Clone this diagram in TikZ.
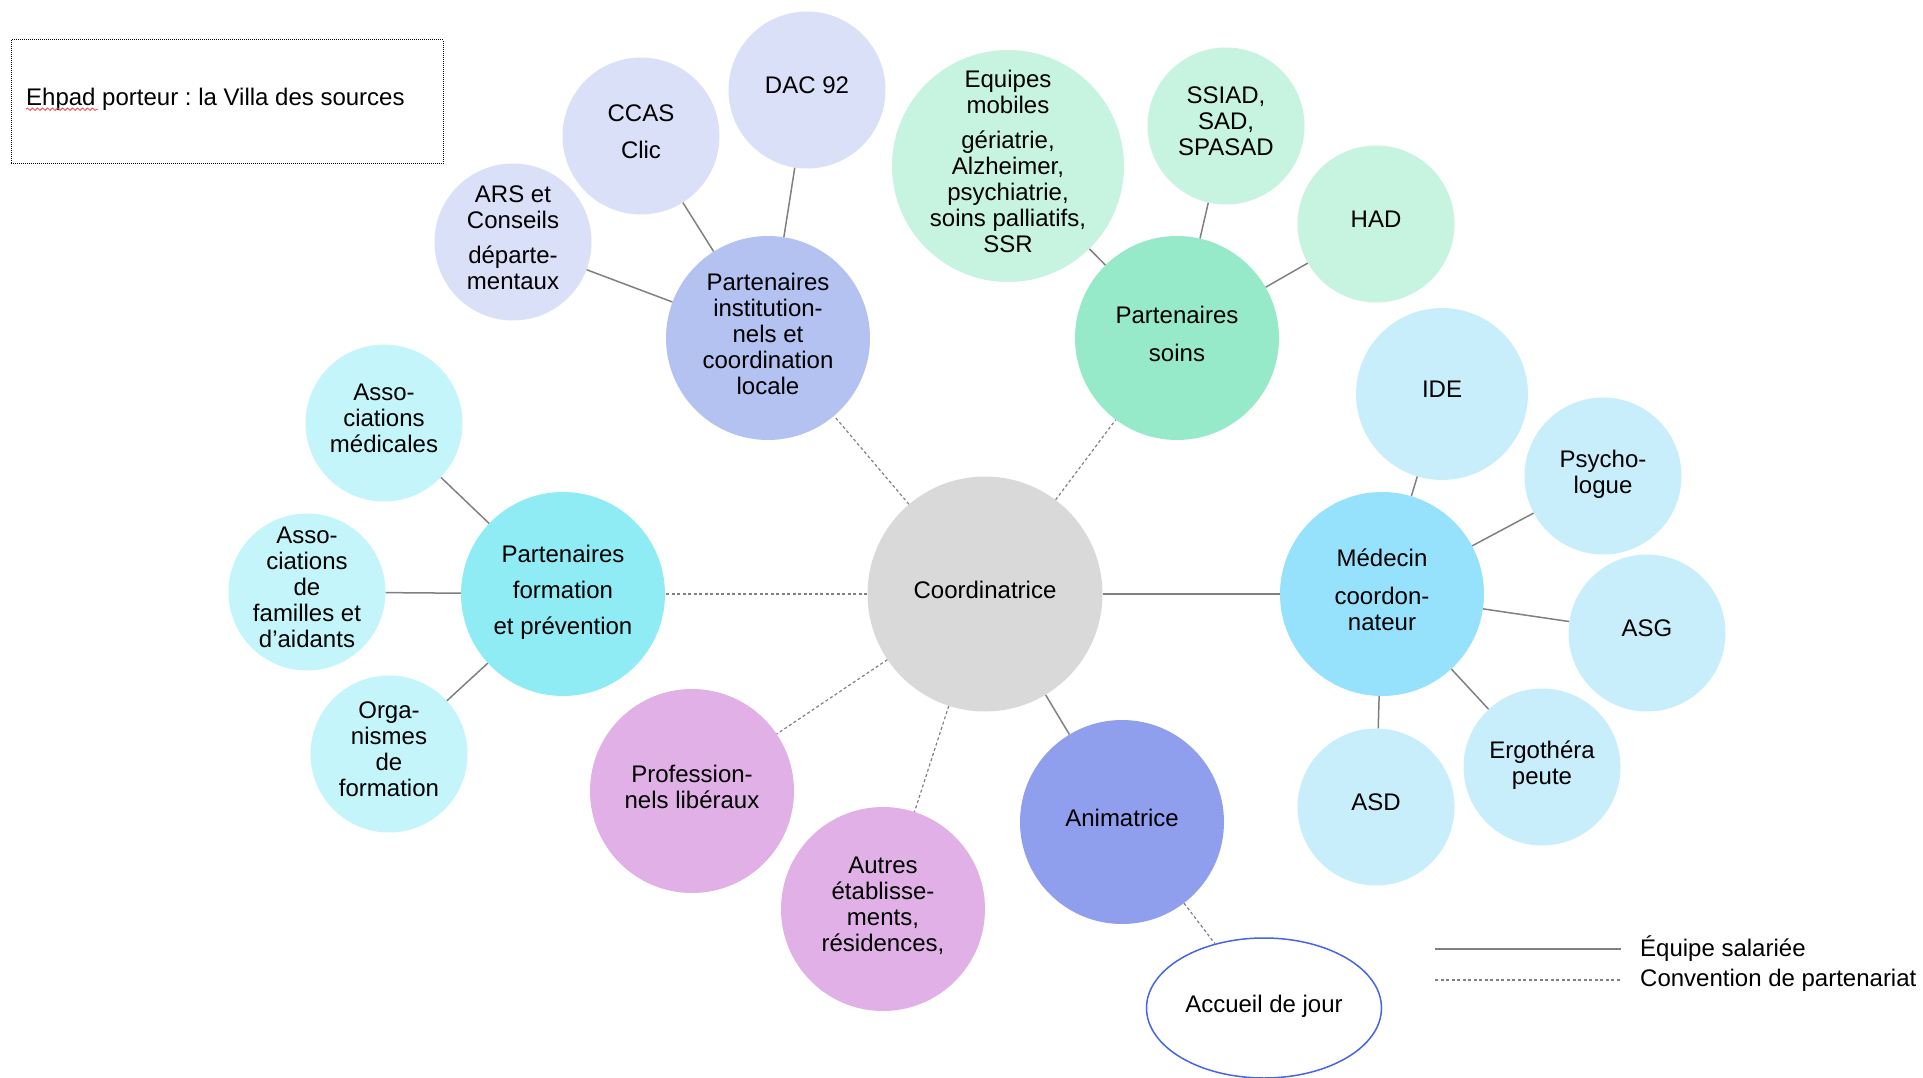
\documentclass[tikz,border=0pt]{standalone}
\usepackage{fontspec}
\setmainfont{Liberation Sans}
\usetikzlibrary{shapes.geometric,decorations.pathmorphing}
\frenchspacing
\definecolor{coordfill}{RGB}{217,217,217}
\definecolor{instfill}{RGB}{180,194,242}
\definecolor{instlight}{RGB}{218,224,248}
\definecolor{soinsfill}{RGB}{150,233,201}
\definecolor{soinslight}{RGB}{199,243,225}
\definecolor{medfill}{RGB}{150,225,252}
\definecolor{medlight}{RGB}{200,238,252}
\definecolor{animfill}{RGB}{144,158,238}
\definecolor{libfill}{RGB}{224,176,230}
\definecolor{formfill}{RGB}{144,236,244}
\definecolor{formlight}{RGB}{196,245,250}
\definecolor{adjblue}{RGB}{70,100,230}
\definecolor{linkgray}{RGB}{128,128,128}
\tikzset{
  bubble/.style={circle, inner sep=-12pt, align=center, text depth=9pt},
  big/.style={bubble, minimum size=204pt},
  small/.style={bubble, minimum size=157pt},
  staff/.style={draw=linkgray, line width=1.5pt},
  partner/.style={draw=linkgray, line width=1.2pt, dash pattern=on 3pt off 2.5pt}
}
\begin{document}
\begin{tikzpicture}[x=1pt, y=-1pt, font=\fontsize{24}{26}\selectfont]
\useasboundingbox (0,0) rectangle (1923,1078);
\node[draw, densely dotted, line width=1pt, minimum width=432pt, minimum height=124pt] (ehpad) at (227,102) {};
\node[anchor=west, inner sep=0pt] (ehpadtxt) at (26,99) {Ehpad porteur : la Villa des sources};
\draw[red!75, line width=0.8pt, decorate, decoration={snake, amplitude=1.2pt, segment length=5pt}] ([yshift=-4pt]ehpadtxt.base west) -- ++(72,0);
\node[bubble, fill=coordfill, minimum size=235pt] (coord) at (985,594) {Coordinatrice};
\node[big, fill=instfill] (inst) at (768,338) {Partenaires\\institution-\\nels et\\coordination\\locale};
\node[small, fill=instlight] (ars) at (513,242) {ARS et\\Conseils\\[9pt]départe-\\mentaux};
\node[small, fill=instlight] (ccas) at (641,136) {CCAS\\[11pt]Clic};
\node[small, fill=instlight] (dac) at (807,90) {DAC 92};
\node[big, fill=soinsfill] (soins) at (1177,338) {Partenaires\\[12pt]soins};
\node[bubble, fill=soinslight, minimum size=232pt] (emob) at (1008,166) {Equipes\\mobiles\\[9pt]gériatrie,\\Alzheimer,\\psychiatrie,\\soins palliatifs,\\SSR};
\node[small, fill=soinslight] (ssiad) at (1226,126) {SSIAD,\\SAD,\\SPASAD};
\node[small, fill=soinslight] (had) at (1376,224) {HAD};
\node[big, fill=medfill] (med) at (1382,594) {Médecin\\[12pt]coordon-\\nateur};
\node[bubble, fill=medlight, minimum size=172pt] (ide) at (1442,394) {IDE};
\node[small, fill=medlight] (psy) at (1603,476) {Psycho-\\logue};
\node[small, fill=medlight] (asg) at (1647,633) {ASG};
\node[small, fill=medlight] (ergo) at (1542,767) {Ergothéra\\peute};
\node[small, fill=medlight] (asd) at (1376,807) {ASD};
\node[big, fill=animfill] (anim) at (1122,822) {Animatrice};
\node[ellipse, draw=adjblue, line width=1.5pt, fill=white, minimum width=235pt, minimum height=140pt, text depth=9pt] (adj) at (1264,1008) {Accueil de jour};
\node[big, fill=libfill] (lib) at (692,791) {Profession-\\nels libéraux};
\node[big, fill=libfill] (etab) at (883,909) {Autres\\établisse-\\ments,\\résidences,};
\node[big, fill=formfill] (form) at (563,594) {Partenaires\\[10pt]formation\\[10pt]et prévention};
\node[small, fill=formlight] (amed) at (384,423) {Asso-\\ciations\\médicales};
\node[small, fill=formlight] (afam) at (307,592) {Asso-\\ciations\\de\\familles et\\d’aidants};
\node[small, fill=formlight] (orga) at (389,754) {Orga-\\nismes\\de\\formation};
\draw[partner] (coord) -- (inst);
\draw[partner] (coord) -- (soins);
\draw[partner] (coord) -- (form);
\draw[partner] (coord) -- (lib);
\draw[partner] (coord) -- (etab);
\draw[staff] (coord) -- (med);
\draw[staff] (coord) -- (anim);
\draw[partner] (anim) -- (adj);
\draw[staff] (inst) -- (ars);
\draw[staff] (inst) -- (ccas);
\draw[staff] (inst) -- (dac);
\draw[staff] (soins) -- (emob);
\draw[staff] (soins) -- (ssiad);
\draw[staff] (soins) -- (had);
\draw[staff] (med) -- (ide);
\draw[staff] (med) -- (psy);
\draw[staff] (med) -- (asg);
\draw[staff] (med) -- (ergo);
\draw[staff] (med) -- (asd);
\draw[staff] (form) -- (amed);
\draw[staff] (form) -- (afam);
\draw[staff] (form) -- (orga);
\coordinate (staffa) at (1435,949);
\coordinate (staffb) at (1621,949);
\coordinate (partnera) at (1435,980);
\coordinate (partnerb) at (1621,980);
\draw[staff] (staffa) -- (staffb);
\draw[partner] (partnera) -- (partnerb);
\node[anchor=west, inner sep=0pt] (stafftxt) at (1640,949) {Équipe salariée};
\node[anchor=west, inner sep=0pt] (partnertxt) at (1640,980) {Convention de partenariat};
\end{tikzpicture}
\end{document}
